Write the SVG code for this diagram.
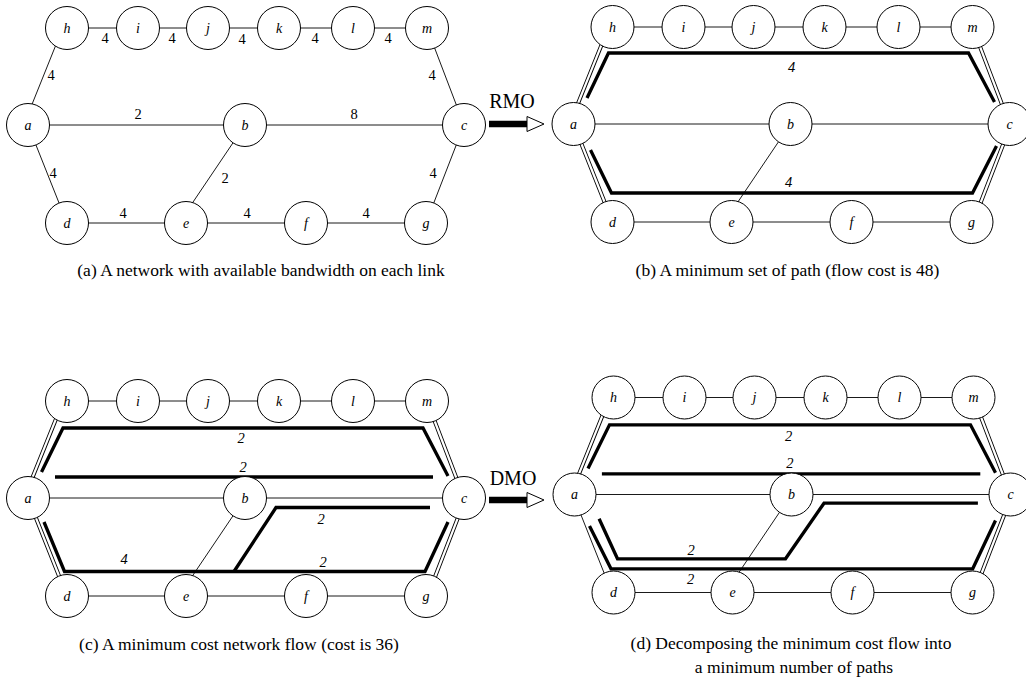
<svg xmlns="http://www.w3.org/2000/svg" xmlns:xlink="http://www.w3.org/1999/xlink" width="1026" height="681" viewBox="0 0 1026 681">
<style>
.bg{fill:#fff}
.nd circle{fill:#fff;stroke:#000;stroke-width:1}
.nd text{font-family:"Liberation Serif",serif;font-style:italic;font-size:14px;text-anchor:middle;fill:#000}
.e{stroke:#1a1a1a;stroke-width:1;fill:none}
.dbo{stroke:#000;stroke-width:4;fill:none}
.dbi{stroke:#fff;stroke-width:2.2;fill:none}
.th{stroke:#000;stroke-width:3.3;fill:none;stroke-linejoin:miter}
.w{font-family:"Liberation Serif",serif;font-size:14.5px;text-anchor:middle;fill:#000}
.wi{font-family:"Liberation Serif",serif;font-style:italic;font-size:14.5px;text-anchor:middle;fill:#000}
.cap{font-family:"Liberation Serif",serif;font-size:17.5px;text-anchor:middle;fill:#000}
.op{font-family:"Liberation Serif",serif;font-size:20px;text-anchor:middle;fill:#000}
.ab{stroke:#000;stroke-width:6.5}
.ah{fill:#fff;stroke:#000;stroke-width:1}
</style>
<defs>
<path id="base" d="M67,28H138M138,28H208M208,28H279M279,28H353M353,28H427M28,125H245M245,125H464M245,125L189,208M67,223H186M186,223H306M306,223H426"/>
<path id="diagA" d="M24.3,123.5L63.3,26.5M427,28L464,125M28,125L67,223M464,125L426,223"/>
<path id="diag2" d="M24.75,123.7L63.75,26.7M427,28L464,125M28,125L67,223M465.4,125.5L427.4,223.5"/>
<path id="diag3" d="M24.75,123.7L63.75,26.7M427,28L464,125M465.4,125.5L427.4,223.5"/>
</defs>
<rect class="bg" x="0" y="0" width="1026" height="681"/>

<!-- Panel (a) -->
<g id="panel-a">
<g id="a-connectors">
<use xlink:href="#base" class="e"/>
<use xlink:href="#diagA" class="e"/>
<text class="w" x="105" y="43">4</text>
<text class="w" x="172" y="43">4</text>
<text class="w" x="242" y="44">4</text>
<text class="w" x="315" y="43">4</text>
<text class="w" x="388" y="43">4</text>
<text class="w" x="51" y="80">4</text>
<text class="w" x="432" y="80">4</text>
<text class="w" x="138" y="119">2</text>
<text class="w" x="354" y="119">8</text>
<text class="w" x="53" y="178">4</text>
<text class="w" x="225" y="183">2</text>
<text class="w" x="433" y="178">4</text>
<text class="w" x="123" y="218">4</text>
<text class="w" x="247" y="218">4</text>
<text class="w" x="366" y="218">4</text>
</g>
<g id="a-h" class="nd"><circle cx="67" cy="28" r="21.5"/><text x="67" y="32.5">h</text></g>
<g id="a-i" class="nd"><circle cx="138" cy="28" r="21.5"/><text x="138" y="32.5">i</text></g>
<g id="a-j" class="nd"><circle cx="208" cy="28" r="21.5"/><text x="208" y="32.5">j</text></g>
<g id="a-k" class="nd"><circle cx="279" cy="28" r="21.5"/><text x="279" y="32.5">k</text></g>
<g id="a-l" class="nd"><circle cx="353" cy="28" r="21.5"/><text x="353" y="32.5">l</text></g>
<g id="a-m" class="nd"><circle cx="427" cy="28" r="21.5"/><text x="427" y="32.5">m</text></g>
<g id="a-a" class="nd"><circle cx="28" cy="125" r="21.5"/><text x="28" y="129.5">a</text></g>
<g id="a-b" class="nd"><circle cx="245" cy="125" r="21.5"/><text x="245" y="129.5">b</text></g>
<g id="a-c" class="nd"><circle cx="464" cy="125" r="21.5"/><text x="464" y="129.5">c</text></g>
<g id="a-d" class="nd"><circle cx="67" cy="223" r="21.5"/><text x="67" y="227.5">d</text></g>
<g id="a-e" class="nd"><circle cx="186" cy="223" r="21.5"/><text x="186" y="227.5">e</text></g>
<g id="a-f" class="nd"><circle cx="306" cy="223" r="21.5"/><text x="306" y="227.5">f</text></g>
<g id="a-g" class="nd"><circle cx="426" cy="223" r="21.5"/><text x="426" y="227.5">g</text></g>
</g>
<text class="cap" x="261" y="275.5">(a) A network with available bandwidth on each link</text>

<!-- RMO arrow -->
<g id="rmo">
<text class="op" x="512" y="108">RMO</text>
<line class="ab" x1="489" y1="124" x2="528" y2="124"/>
<polygon class="ah" points="527,116.5 544,124 527,131.5"/>
</g>

<!-- Panel (b) -->
<g id="panel-b" transform="translate(545.5,-1)">
<g id="b-connectors">
<use xlink:href="#base" class="e"/>
<use xlink:href="#diag2" class="dbo"/>
<use xlink:href="#diag2" class="dbi"/>
<path class="th" d="M41.5,99L63,54H423L449,103"/>
<path class="th" d="M45,151L66,194H427L451,147"/>
<text class="wi" x="246" y="73">4</text>
<text class="wi" x="243" y="188">4</text>
</g>
<g id="b-h" class="nd"><circle cx="67" cy="28" r="21.5"/><text x="67" y="32.5">h</text></g>
<g id="b-i" class="nd"><circle cx="138" cy="28" r="21.5"/><text x="138" y="32.5">i</text></g>
<g id="b-j" class="nd"><circle cx="208" cy="28" r="21.5"/><text x="208" y="32.5">j</text></g>
<g id="b-k" class="nd"><circle cx="279" cy="28" r="21.5"/><text x="279" y="32.5">k</text></g>
<g id="b-l" class="nd"><circle cx="353" cy="28" r="21.5"/><text x="353" y="32.5">l</text></g>
<g id="b-m" class="nd"><circle cx="427" cy="28" r="21.5"/><text x="427" y="32.5">m</text></g>
<g id="b-a" class="nd"><circle cx="28" cy="125" r="21.5"/><text x="28" y="129.5">a</text></g>
<g id="b-b" class="nd"><circle cx="245" cy="125" r="21.5"/><text x="245" y="129.5">b</text></g>
<g id="b-c" class="nd"><circle cx="464" cy="125" r="21.5"/><text x="464" y="129.5">c</text></g>
<g id="b-d" class="nd"><circle cx="67" cy="223" r="21.5"/><text x="67" y="227.5">d</text></g>
<g id="b-e" class="nd"><circle cx="186" cy="223" r="21.5"/><text x="186" y="227.5">e</text></g>
<g id="b-f" class="nd"><circle cx="306" cy="223" r="21.5"/><text x="306" y="227.5">f</text></g>
<g id="b-g" class="nd"><circle cx="426" cy="223" r="21.5"/><text x="426" y="227.5">g</text></g>
</g>
<text class="cap" x="787.5" y="275.5">(b) A minimum set of path (flow cost is 48)</text>

<!-- Panel (c) -->
<g id="panel-c" transform="translate(0,373)">
<g id="c-connectors">
<use xlink:href="#base" class="e"/>
<use xlink:href="#diag2" class="dbo"/>
<use xlink:href="#diag2" class="dbi"/>
<path class="th" d="M41.5,99L63,55H423L448,103"/>
<path class="th" d="M55,104H433"/>
<path class="th" d="M44,149L64.5,198.5H425L448,149"/>
<path class="th" d="M234,198.5L276,134.5H430"/>
<text class="wi" x="241" y="70">2</text>
<text class="wi" x="243" y="98.5">2</text>
<text class="wi" x="124" y="190.5">4</text>
<text class="wi" x="323" y="193.5">2</text>
<text class="wi" x="321" y="150.5">2</text>
</g>
<g id="c-h" class="nd"><circle cx="67" cy="28" r="21.5"/><text x="67" y="32.5">h</text></g>
<g id="c-i" class="nd"><circle cx="138" cy="28" r="21.5"/><text x="138" y="32.5">i</text></g>
<g id="c-j" class="nd"><circle cx="208" cy="28" r="21.5"/><text x="208" y="32.5">j</text></g>
<g id="c-k" class="nd"><circle cx="279" cy="28" r="21.5"/><text x="279" y="32.5">k</text></g>
<g id="c-l" class="nd"><circle cx="353" cy="28" r="21.5"/><text x="353" y="32.5">l</text></g>
<g id="c-m" class="nd"><circle cx="427" cy="28" r="21.5"/><text x="427" y="32.5">m</text></g>
<g id="c-a" class="nd"><circle cx="28" cy="125" r="21.5"/><text x="28" y="129.5">a</text></g>
<g id="c-b" class="nd"><circle cx="245" cy="125" r="21.5"/><text x="245" y="129.5">b</text></g>
<g id="c-c" class="nd"><circle cx="464" cy="125" r="21.5"/><text x="464" y="129.5">c</text></g>
<g id="c-d" class="nd"><circle cx="67" cy="223" r="21.5"/><text x="67" y="227.5">d</text></g>
<g id="c-e" class="nd"><circle cx="186" cy="223" r="21.5"/><text x="186" y="227.5">e</text></g>
<g id="c-f" class="nd"><circle cx="306" cy="223" r="21.5"/><text x="306" y="227.5">f</text></g>
<g id="c-g" class="nd"><circle cx="426" cy="223" r="21.5"/><text x="426" y="227.5">g</text></g>
</g>
<text class="cap" x="239" y="650">(c) A minimum cost network flow (cost is 36)</text>

<!-- DMO arrow -->
<g id="dmo">
<text class="op" x="513" y="485">DMO</text>
<line class="ab" x1="489" y1="500" x2="528" y2="500"/>
<polygon class="ah" points="527,492.5 544,500 527,507.5"/>
</g>

<!-- Panel (d) -->
<g id="panel-d" transform="translate(546.5,369.5)">
<g id="d-connectors">
<use xlink:href="#base" class="e"/>
<use xlink:href="#diag3" class="dbo"/>
<use xlink:href="#diag3" class="dbi"/>
<path class="e" d="M26.6,125.6L65.6,223.6"/>
<path class="th" d="M41.5,99L63,55.3H424L449,103.3"/>
<path class="th" d="M55.4,104.3H433.8"/>
<path class="th" d="M52.6,149.3L71,189.3H239L277.5,133.7H431.4"/>
<path class="th" d="M43,156.5L64.5,199.3H426.2L449,151"/>
<text class="wi" x="242" y="71">2</text>
<text class="wi" x="243.4" y="98.5">2</text>
<text class="wi" x="144.5" y="185.5">2</text>
<text class="wi" x="144" y="214.5">2</text>
</g>
<g id="d-h" class="nd"><circle cx="67" cy="28" r="21.5"/><text x="67" y="32.5">h</text></g>
<g id="d-i" class="nd"><circle cx="138" cy="28" r="21.5"/><text x="138" y="32.5">i</text></g>
<g id="d-j" class="nd"><circle cx="208" cy="28" r="21.5"/><text x="208" y="32.5">j</text></g>
<g id="d-k" class="nd"><circle cx="279" cy="28" r="21.5"/><text x="279" y="32.5">k</text></g>
<g id="d-l" class="nd"><circle cx="353" cy="28" r="21.5"/><text x="353" y="32.5">l</text></g>
<g id="d-m" class="nd"><circle cx="427" cy="28" r="21.5"/><text x="427" y="32.5">m</text></g>
<g id="d-a" class="nd"><circle cx="28" cy="125" r="21.5"/><text x="28" y="129.5">a</text></g>
<g id="d-b" class="nd"><circle cx="245" cy="125" r="21.5"/><text x="245" y="129.5">b</text></g>
<g id="d-c" class="nd"><circle cx="464" cy="125" r="21.5"/><text x="464" y="129.5">c</text></g>
<g id="d-d" class="nd"><circle cx="67" cy="223" r="21.5"/><text x="67" y="227.5">d</text></g>
<g id="d-e" class="nd"><circle cx="186" cy="223" r="21.5"/><text x="186" y="227.5">e</text></g>
<g id="d-f" class="nd"><circle cx="306" cy="223" r="21.5"/><text x="306" y="227.5">f</text></g>
<g id="d-g" class="nd"><circle cx="426" cy="223" r="21.5"/><text x="426" y="227.5">g</text></g>
</g>
<text class="cap" x="791" y="649">(d) Decomposing the minimum cost flow into</text>
<text class="cap" x="794" y="673">a minimum number of paths</text>
</svg>
